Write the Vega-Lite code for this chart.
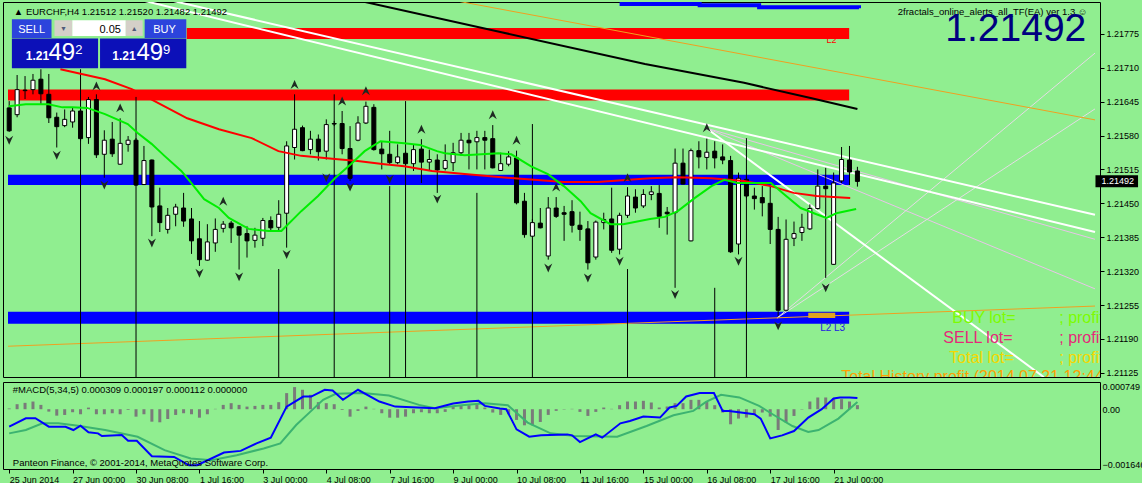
{
  "$schema": "https://vega.github.io/schema/vega-lite/v6.json",
  "background": "#90EE90",
  "padding": {"left": 2, "top": 1, "right": 0, "bottom": 0},
  "spacing": 2,
  "config": {
    "font": "Liberation Sans",
    "view": {"stroke": "#000000", "strokeWidth": 1},
    "axis": {"domainColor": "#000000", "tickColor": "#000000", "labelColor": "#000000", "labelFont": "Liberation Sans", "labelFontSize": 9, "grid": false}
  },
  "datasets": {
    "candles": [
      {"i":0,"o":1.21633,"h":1.21646,"l":1.21587,"c":1.21589},
      {"i":1,"o":1.2162,"h":1.21696,"l":1.21615,"c":1.21668},
      {"i":2,"o":1.21667,"h":1.21694,"l":1.2165,"c":1.21666},
      {"i":3,"o":1.21668,"h":1.21698,"l":1.21659,"c":1.21686},
      {"i":4,"o":1.21688,"h":1.21707,"l":1.2164,"c":1.2166},
      {"i":5,"o":1.21659,"h":1.21698,"l":1.21604,"c":1.21614},
      {"i":6,"o":1.21615,"h":1.21624,"l":1.21557,"c":1.21597},
      {"i":7,"o":1.21599,"h":1.2163,"l":1.21596,"c":1.21611},
      {"i":8,"o":1.21606,"h":1.21633,"l":1.21595,"c":1.21627},
      {"i":9,"o":1.21627,"h":1.21636,"l":1.21569,"c":1.21574},
      {"i":10,"o":1.21576,"h":1.21654,"l":1.21564,"c":1.21649},
      {"i":11,"o":1.21649,"h":1.21659,"l":1.21537,"c":1.21543},
      {"i":12,"o":1.21544,"h":1.2159,"l":1.21499,"c":1.21571},
      {"i":13,"o":1.21573,"h":1.21606,"l":1.21539,"c":1.21545},
      {"i":14,"o":1.21525,"h":1.21613,"l":1.21524,"c":1.21565},
      {"i":15,"o":1.21563,"h":1.21579,"l":1.21549,"c":1.21571},
      {"i":16,"o":1.21571,"h":1.21575,"l":1.21484,"c":1.21485},
      {"i":17,"o":1.21486,"h":1.2156,"l":1.21485,"c":1.21532},
      {"i":18,"o":1.21533,"h":1.21534,"l":1.21387,"c":1.21443},
      {"i":19,"o":1.21445,"h":1.2148,"l":1.21395,"c":1.21413},
      {"i":20,"o":1.214,"h":1.21441,"l":1.21392,"c":1.21427},
      {"i":21,"o":1.21429,"h":1.21449,"l":1.21406,"c":1.21443},
      {"i":22,"o":1.21441,"h":1.2147,"l":1.21405,"c":1.21416},
      {"i":23,"o":1.2142,"h":1.21441,"l":1.21353,"c":1.21378},
      {"i":24,"o":1.21382,"h":1.21416,"l":1.2133,"c":1.21342},
      {"i":25,"o":1.21341,"h":1.2141,"l":1.2134,"c":1.21376},
      {"i":26,"o":1.21374,"h":1.21421,"l":1.21357,"c":1.214},
      {"i":27,"o":1.21402,"h":1.21416,"l":1.21394,"c":1.2141},
      {"i":28,"o":1.21412,"h":1.21416,"l":1.21374,"c":1.21403},
      {"i":29,"o":1.21405,"h":1.21406,"l":1.21323,"c":1.21389},
      {"i":30,"o":1.21392,"h":1.21406,"l":1.21346,"c":1.21378},
      {"i":31,"o":1.21379,"h":1.21403,"l":1.21365,"c":1.21389},
      {"i":32,"o":1.21383,"h":1.21422,"l":1.21368,"c":1.21417},
      {"i":33,"o":1.21417,"h":1.21425,"l":1.21397,"c":1.21403},
      {"i":34,"o":1.21404,"h":1.21456,"l":1.21397,"c":1.21429},
      {"i":35,"o":1.21431,"h":1.21569,"l":1.21365,"c":1.2156},
      {"i":36,"o":1.21557,"h":1.21659,"l":1.21534,"c":1.21592},
      {"i":37,"o":1.21595,"h":1.21599,"l":1.2155,"c":1.21551},
      {"i":38,"o":1.21553,"h":1.21589,"l":1.21544,"c":1.21573},
      {"i":39,"o":1.21573,"h":1.21582,"l":1.21532,"c":1.21549},
      {"i":40,"o":1.2155,"h":1.21611,"l":1.21534,"c":1.21601},
      {"i":41,"o":1.21603,"h":1.21608,"l":1.21598,"c":1.21602},
      {"i":42,"o":1.21603,"h":1.21627,"l":1.21544,"c":1.21555},
      {"i":43,"o":1.21555,"h":1.21598,"l":1.21493,"c":1.21498},
      {"i":44,"o":1.21571,"h":1.21617,"l":1.21569,"c":1.21604},
      {"i":45,"o":1.21604,"h":1.21645,"l":1.21602,"c":1.21636},
      {"i":46,"o":1.21634,"h":1.2164,"l":1.21551,"c":1.21553},
      {"i":47,"o":1.21554,"h":1.21569,"l":1.21515,"c":1.21545},
      {"i":48,"o":1.21544,"h":1.21589,"l":1.21525,"c":1.21528},
      {"i":49,"o":1.21528,"h":1.21563,"l":1.21525,"c":1.21539},
      {"i":50,"o":1.21546,"h":1.2155,"l":1.21521,"c":1.21526},
      {"i":51,"o":1.21526,"h":1.21563,"l":1.21512,"c":1.21553},
      {"i":52,"o":1.21554,"h":1.21573,"l":1.21489,"c":1.21529},
      {"i":53,"o":1.21529,"h":1.21553,"l":1.21512,"c":1.21534},
      {"i":54,"o":1.21533,"h":1.21544,"l":1.2147,"c":1.21514},
      {"i":55,"o":1.21517,"h":1.21563,"l":1.21513,"c":1.21532},
      {"i":56,"o":1.21528,"h":1.21566,"l":1.21512,"c":1.21547},
      {"i":57,"o":1.21547,"h":1.21585,"l":1.21541,"c":1.21571},
      {"i":58,"o":1.21571,"h":1.21585,"l":1.21515,"c":1.21566},
      {"i":59,"o":1.21568,"h":1.21589,"l":1.21515,"c":1.21576},
      {"i":60,"o":1.21576,"h":1.21589,"l":1.21515,"c":1.21571},
      {"i":61,"o":1.21574,"h":1.216,"l":1.21517,"c":1.21518},
      {"i":62,"o":1.21513,"h":1.21547,"l":1.21512,"c":1.21526},
      {"i":63,"o":1.21525,"h":1.2155,"l":1.21521,"c":1.21539},
      {"i":64,"o":1.21537,"h":1.21551,"l":1.21448,"c":1.21451},
      {"i":65,"o":1.21454,"h":1.2147,"l":1.21384,"c":1.2139},
      {"i":66,"o":1.21387,"h":1.2142,"l":1.21386,"c":1.21413},
      {"i":67,"o":1.21412,"h":1.21441,"l":1.21402,"c":1.21403},
      {"i":68,"o":1.21349,"h":1.21462,"l":1.21342,"c":1.21441},
      {"i":69,"o":1.21441,"h":1.21462,"l":1.21422,"c":1.21425},
      {"i":70,"o":1.21432,"h":1.21445,"l":1.21378,"c":1.21429},
      {"i":71,"o":1.21434,"h":1.21456,"l":1.21394,"c":1.21408},
      {"i":72,"o":1.21408,"h":1.21434,"l":1.21378,"c":1.214},
      {"i":73,"o":1.21401,"h":1.21416,"l":1.21323,"c":1.21336},
      {"i":74,"o":1.21347,"h":1.21417,"l":1.21342,"c":1.21414},
      {"i":75,"o":1.21413,"h":1.21432,"l":1.214,"c":1.21419},
      {"i":76,"o":1.2142,"h":1.2148,"l":1.21355,"c":1.2136},
      {"i":77,"o":1.21362,"h":1.21432,"l":1.21352,"c":1.21427},
      {"i":78,"o":1.21427,"h":1.21481,"l":1.21422,"c":1.21464},
      {"i":79,"o":1.21462,"h":1.21477,"l":1.21432,"c":1.21441},
      {"i":80,"o":1.21445,"h":1.21477,"l":1.21441,"c":1.21467},
      {"i":81,"o":1.21467,"h":1.21483,"l":1.21456,"c":1.21472},
      {"i":82,"o":1.21469,"h":1.21485,"l":1.21403,"c":1.21425},
      {"i":83,"o":1.21433,"h":1.21443,"l":1.2139,"c":1.2143},
      {"i":84,"o":1.21432,"h":1.21555,"l":1.21288,"c":1.21527},
      {"i":85,"o":1.21527,"h":1.21555,"l":1.21486,"c":1.21487},
      {"i":86,"o":1.21378,"h":1.21555,"l":1.21377,"c":1.21551},
      {"i":87,"o":1.21551,"h":1.21569,"l":1.21517,"c":1.21539},
      {"i":88,"o":1.21538,"h":1.21574,"l":1.21515,"c":1.21548},
      {"i":89,"o":1.2155,"h":1.21569,"l":1.21517,"c":1.21537},
      {"i":90,"o":1.21539,"h":1.21563,"l":1.21525,"c":1.21533},
      {"i":91,"o":1.21532,"h":1.21541,"l":1.21355,"c":1.21357},
      {"i":92,"o":1.21372,"h":1.21509,"l":1.21352,"c":1.21498},
      {"i":93,"o":1.21496,"h":1.21502,"l":1.2146,"c":1.21464},
      {"i":94,"o":1.21464,"h":1.2148,"l":1.21438,"c":1.21459},
      {"i":95,"o":1.21461,"h":1.21483,"l":1.21425,"c":1.21451},
      {"i":96,"o":1.2145,"h":1.21483,"l":1.21372,"c":1.214},
      {"i":97,"o":1.214,"h":1.21424,"l":1.21234,"c":1.21245},
      {"i":98,"o":1.21245,"h":1.21419,"l":1.21243,"c":1.21381},
      {"i":99,"o":1.21383,"h":1.21415,"l":1.21368,"c":1.21392},
      {"i":100,"o":1.21394,"h":1.2143,"l":1.21378,"c":1.21404},
      {"i":101,"o":1.21401,"h":1.21448,"l":1.21399,"c":1.2144},
      {"i":102,"o":1.2144,"h":1.21515,"l":1.21438,"c":1.21483},
      {"i":103,"o":1.21483,"h":1.21518,"l":1.21307,"c":1.21478},
      {"i":104,"o":1.21333,"h":1.21509,"l":1.21332,"c":1.21489},
      {"i":105,"o":1.21493,"h":1.21558,"l":1.21489,"c":1.21534},
      {"i":106,"o":1.21533,"h":1.2156,"l":1.21485,"c":1.2151},
      {"i":107,"o":1.21512,"h":1.2152,"l":1.21482,"c":1.21492}
    ],
    "ma": [
      {"s":"red","i":6.46,"p":1.21707},{"s":"red","i":12.09,"p":1.21688},{"s":"red","i":15.46,"p":1.21669},
      {"s":"red","i":18.34,"p":1.21646},{"s":"red","i":22.46,"p":1.21613},{"s":"red","i":26.46,"p":1.21592},
      {"s":"red","i":30.59,"p":1.21575},{"s":"red","i":33.96,"p":1.2155},{"s":"red","i":36.84,"p":1.21541},
      {"s":"red","i":41.09,"p":1.21535},{"s":"red","i":43.96,"p":1.21531},{"s":"red","i":47.34,"p":1.21525},
      {"s":"red","i":49.84,"p":1.21521},{"s":"red","i":53.34,"p":1.21512},{"s":"red","i":57.46,"p":1.21506},
      {"s":"red","i":63.71,"p":1.21498},{"s":"red","i":69.96,"p":1.21491},{"s":"red","i":74.21,"p":1.21491},
      {"s":"red","i":80.84,"p":1.21498},{"s":"red","i":84.34,"p":1.215},{"s":"red","i":88.59,"p":1.21498},
      {"s":"red","i":92.71,"p":1.21493},{"s":"red","i":96.09,"p":1.21483},{"s":"red","i":98.96,"p":1.2147},
      {"s":"red","i":101.84,"p":1.21464},{"s":"red","i":106.09,"p":1.2146},
      {"s":"green","i":-0.04,"p":1.21636},{"s":"green","i":2.09,"p":1.2164},{"s":"green","i":4.96,"p":1.2164},
      {"s":"green","i":6.71,"p":1.21634},{"s":"green","i":7.96,"p":1.21634},{"s":"green","i":9.84,"p":1.21633},
      {"s":"green","i":12.09,"p":1.21621},{"s":"green","i":14.96,"p":1.21602},{"s":"green","i":16.21,"p":1.21585},
      {"s":"green","i":17.96,"p":1.21564},{"s":"green","i":19.59,"p":1.21541},{"s":"green","i":21.71,"p":1.21512},
      {"s":"green","i":22.96,"p":1.21489},{"s":"green","i":24.59,"p":1.21458},{"s":"green","i":26.46,"p":1.21441},
      {"s":"green","i":27.71,"p":1.21422},{"s":"green","i":30.21,"p":1.21401},{"s":"green","i":32.71,"p":1.21397},
      {"s":"green","i":34.34,"p":1.21397},{"s":"green","i":36.84,"p":1.21435},{"s":"green","i":38.96,"p":1.21464},
      {"s":"green","i":41.09,"p":1.21498},{"s":"green","i":43.09,"p":1.21525},{"s":"green","i":44.84,"p":1.2155},
      {"s":"green","i":46.84,"p":1.21569},{"s":"green","i":49.84,"p":1.21565},{"s":"green","i":51.84,"p":1.21562},
      {"s":"green","i":53.96,"p":1.2155},{"s":"green","i":54.96,"p":1.21546},{"s":"green","i":57.46,"p":1.21542},
      {"s":"green","i":61.71,"p":1.21546},{"s":"green","i":63.34,"p":1.21544},{"s":"green","i":65.84,"p":1.21521},
      {"s":"green","i":67.96,"p":1.21506},{"s":"green","i":69.96,"p":1.21483},{"s":"green","i":72.09,"p":1.21454},
      {"s":"green","i":73.34,"p":1.21431},{"s":"green","i":75.84,"p":1.2141},{"s":"green","i":77.46,"p":1.2141},
      {"s":"green","i":80.84,"p":1.2142},{"s":"green","i":82.71,"p":1.21424},{"s":"green","i":84.34,"p":1.21435},
      {"s":"green","i":86.46,"p":1.2146},{"s":"green","i":88.59,"p":1.21483},{"s":"green","i":90.21,"p":1.21495},
      {"s":"green","i":91.84,"p":1.21489},{"s":"green","i":96.09,"p":1.21489},{"s":"green","i":97.71,"p":1.21468},
      {"s":"green","i":99.84,"p":1.21441},{"s":"green","i":101.84,"p":1.21429},{"s":"green","i":103.09,"p":1.21422},
      {"s":"green","i":104.34,"p":1.21431},{"s":"green","i":106.84,"p":1.21439}
    ],
    "tl": [
      {"s":"wA","i":20.7,"p":1.21838},{"s":"wA","i":136.97,"p":1.21428},
      {"s":"wB","i":17.1,"p":1.21838},{"s":"wB","i":136.97,"p":1.21395},
      {"s":"wC","i":87.96,"p":1.21594},{"s":"wC","i":130.5,"p":1.21117},
      {"s":"k1","i":87.96,"p":1.21594},{"s":"k1","i":136.97,"p":1.21286},
      {"s":"k2","i":87.96,"p":1.21594},{"s":"k2","i":136.97,"p":1.21381},
      {"s":"r1","i":96.85,"p":1.2123},{"s":"r1","i":136.97,"p":1.21738},
      {"s":"r2","i":96.85,"p":1.2123},{"s":"r2","i":136.97,"p":1.21631},
      {"s":"o1","i":-0.15,"p":1.21176},{"s":"o1","i":136.97,"p":1.21253},
      {"s":"o2","i":56.46,"p":1.21838},{"s":"o2","i":136.97,"p":1.2161},
      {"s":"bk","i":44.3,"p":1.21838},{"s":"bk","i":62.1,"p":1.21778},{"s":"bk","i":80.2,"p":1.21717},
      {"s":"bk","i":92.7,"p":1.21681},{"s":"bk","i":101.1,"p":1.21652},{"s":"bk","i":107,"p":1.21631},
      {"s":"bt","i":77,"p":1.21832},{"s":"bt","i":87.1,"p":1.2183},{"s":"bt","i":94.6,"p":1.21826},{"s":"bt","i":107.2,"p":1.21824}
    ],
    "fr": [
      {"i":11,"p":1.21675,"d":"up"},{"i":14,"p":1.21633,"d":"up"},{"i":27,"p":1.21454,"d":"up"},
      {"i":36,"p":1.21678,"d":"up"},{"i":42,"p":1.21646,"d":"up"},{"i":45,"p":1.21666,"d":"up"},
      {"i":52,"p":1.21592,"d":"up"},{"i":61,"p":1.2162,"d":"up"},{"i":64,"p":1.21571,"d":"up"},
      {"i":69,"p":1.21481,"d":"up"},{"i":78,"p":1.21499,"d":"up"},{"i":88,"p":1.21595,"d":"up"},
      {"i":0,"p":1.21571,"d":"dn"},{"i":6,"p":1.21542,"d":"dn"},{"i":12,"p":1.21485,"d":"dn"},
      {"i":18,"p":1.21374,"d":"dn"},{"i":24,"p":1.21316,"d":"dn"},{"i":29,"p":1.21309,"d":"dn"},
      {"i":35,"p":1.21352,"d":"dn"},{"i":40,"p":1.21499,"d":"dn"},{"i":43,"p":1.21481,"d":"dn"},
      {"i":48,"p":1.21496,"d":"dn"},{"i":54,"p":1.21458,"d":"dn"},{"i":68,"p":1.21326,"d":"dn"},
      {"i":73,"p":1.21307,"d":"dn"},{"i":77,"p":1.21339,"d":"dn"},{"i":84,"p":1.21275,"d":"dn"},
      {"i":92,"p":1.21339,"d":"dn"},{"i":97,"p":1.21215,"d":"dn"},{"i":103,"p":1.21288,"d":"dn"}
    ],
    "vl": [
      {"i":9,"p":1.21707},{"i":16,"p":1.21654},{"i":34,"p":1.21324},{"i":41,"p":1.21659},
      {"i":48,"p":1.21483},{"i":50,"p":1.21646},{"i":59,"p":1.2147},{"i":66,"p":1.21602},
      {"i":78,"p":1.21324},{"i":89,"p":1.21288},{"i":93,"p":1.21575}
    ],
    "bx": [
      {"g":"band","n":"redtop","i":22.4,"i2":105.96,"p":1.21786,"p2":1.21765},
      {"g":"band","n":"red","i":-0.15,"i2":105.96,"p":1.21668,"p2":1.21647},
      {"g":"band","n":"blue","i":-0.15,"i2":105.96,"p":1.21505,"p2":1.21485},
      {"g":"band","n":"bluelow","i":-0.15,"i2":105.96,"p":1.21242,"p2":1.21219},
      {"g":"band","n":"gold","i":100.8,"i2":104.2,"p":1.2124,"p2":1.2123},
      {"g":"panel","n":"sell","i":0.34,"i2":5.34,"p":1.21803,"p2":1.21767},
      {"g":"panel","n":"spinl","i":5.71,"i2":7.96,"p":1.21801,"p2":1.21771},
      {"g":"panel","n":"spint","i":7.96,"i2":14.71,"p":1.21801,"p2":1.21771},
      {"g":"panel","n":"spinr","i":14.71,"i2":16.84,"p":1.21801,"p2":1.21771},
      {"g":"panel","n":"buy","i":17.09,"i2":22.34,"p":1.21803,"p2":1.21767},
      {"g":"panel","n":"pricel","i":0.34,"i2":11.21,"p":1.21766,"p2":1.21709},
      {"g":"panel","n":"pricer","i":11.46,"i2":22.34,"p":1.21766,"p2":1.21709},
      {"g":"panel","n":"tag","i":137.03,"i2":142.4,"p":1.21504,"p2":1.21481}
    ],
    "tx": [
      {"g":"hdr","t":"▲ EURCHF,H4  1.21512 1.21520 1.21482 1.21492","i":0.59,"p":1.21811},
      {"g":"hdr","t":"2fractals_online_alerts_all_TF(EA) ver 1.3 ☺","i":112.09,"p":1.21811},
      {"g":"big","t":"1.21492","i":118.09,"p":1.21762},
      {"g":"btn","t":"SELL","i":2.84,"p":1.21777},
      {"g":"btn","t":"BUY","i":19.6,"p":1.21777},
      {"g":"arr","t":"▼","i":6.84,"p":1.2178},
      {"g":"arr","t":"▲","i":15.77,"p":1.2178},
      {"g":"spin","t":"0.05","i":14.09,"p":1.21777},
      {"g":"s12","t":"1.21","i":2.09,"p":1.21724},
      {"g":"s12","t":"1.21","i":13.0,"p":1.21724},
      {"g":"m24","t":"49","i":4.96,"p":1.21724},
      {"g":"m24","t":"49","i":16.05,"p":1.21724},
      {"g":"sup","t":"2","i":8.34,"p":1.21737},
      {"g":"sup","t":"9","i":19.4,"p":1.21737},
      {"g":"l2","t":"L2","i":103.1,"p":1.21757},
      {"g":"l23","t":"L2 L3","i":102.3,"p":1.21205},
      {"g":"buy","t":"BUY  lot=","i":118.96,"p":1.21221},
      {"g":"buy","t":"; profit=","i":132.46,"p":1.21221},
      {"g":"sell","t":"SELL  lot=","i":117.84,"p":1.21183},
      {"g":"sell","t":"; profit=","i":132.46,"p":1.21183},
      {"g":"tot","t":"Total  lot=","i":118.6,"p":1.21144},
      {"g":"tot","t":"; profit=","i":132.46,"p":1.21144},
      {"g":"his","t":"Total History profit (2014.07.21 12:44:11)","i":104.96,"p":1.21107},
      {"g":"tag","t":"1.21492","i":137.8,"p":1.21492}
    ],
    "hist": [
      {"i":0,"v":0.00002},{"i":1,"v":0.000138},{"i":2,"v":0.000175},{"i":3,"v":0.000211},{"i":4,"v":0.000119},
      {"i":5,"v":-0.000066},{"i":6,"v":-0.000177},{"i":7,"v":-0.000158},{"i":8,"v":-0.000083},{"i":9,"v":-0.000139},
      {"i":10,"v":0.000044},{"i":11,"v":-0.000139},{"i":12,"v":-0.000139},{"i":13,"v":-0.000111},{"i":14,"v":-0.000139},
      {"i":15,"v":-0.00002},{"i":16,"v":-0.000205},{"i":17,"v":-0.000139},{"i":18,"v":-0.000343},{"i":19,"v":-0.00036},
      {"i":20,"v":-0.000269},{"i":21,"v":-0.000158},{"i":22,"v":-0.000111},{"i":23,"v":-0.000139},{"i":24,"v":-0.000233},
      {"i":25,"v":-0.000139},{"i":26,"v":0.00001},{"i":27,"v":0.000119},{"i":28,"v":0.000166},{"i":29,"v":0.000119},
      {"i":30,"v":0.000072},{"i":31,"v":0.000091},{"i":32,"v":0.000119},{"i":33,"v":0.000119},{"i":34,"v":0.000194},
      {"i":35,"v":0.000443},{"i":36,"v":0.000609},{"i":37,"v":0.000535},{"i":38,"v":0.000396},{"i":39,"v":0.000194},
      {"i":40,"v":0.000166},{"i":41,"v":0.000138},{"i":42,"v":-0.00002},{"i":43,"v":-0.000205},{"i":44,"v":-0.000047},
      {"i":45,"v":0.000072},{"i":46,"v":0.00001},{"i":47,"v":-0.000111},{"i":48,"v":-0.000233},{"i":49,"v":-0.000233},
      {"i":50,"v":-0.000205},{"i":51,"v":-0.000111},{"i":52,"v":-0.000083},{"i":53,"v":-0.000111},{"i":54,"v":-0.000111},
      {"i":55,"v":-0.000074},{"i":56,"v":0.000074},{"i":57,"v":0.000092},{"i":58,"v":0.000111},{"i":59,"v":0.000138},
      {"i":60,"v":0.000046},{"i":61,"v":-0.000092},{"i":62,"v":-0.000157},{"i":63,"v":-0.000138},{"i":64,"v":-0.000295},
      {"i":65,"v":-0.000443},{"i":66,"v":-0.000443},{"i":67,"v":-0.000351},{"i":68,"v":-0.000157},{"i":69,"v":-0.000046},
      {"i":70,"v":-0.00001},{"i":71,"v":0.00001},{"i":72,"v":-0.000074},{"i":73,"v":-0.000185},{"i":74,"v":-0.000074},
      {"i":75,"v":0.000046},{"i":76,"v":0.00001},{"i":77,"v":0.000111},{"i":78,"v":0.000212},{"i":79,"v":0.000212},
      {"i":80,"v":0.000231},{"i":81,"v":0.000185},{"i":82,"v":0.000046},{"i":83,"v":0.000074},{"i":84,"v":0.000166},
      {"i":85,"v":0.000166},{"i":86,"v":0.000258},{"i":87,"v":0.000258},{"i":88,"v":0.000203},{"i":89,"v":0.000111},
      {"i":90,"v":-0.000092},{"i":91,"v":-0.000415},{"i":92,"v":-0.000258},{"i":93,"v":-0.000231},{"i":94,"v":-0.000138},
      {"i":95,"v":-0.000092},{"i":96,"v":-0.000203},{"i":97,"v":-0.000572},{"i":98,"v":-0.000369},{"i":99,"v":-0.000185},
      {"i":100,"v":-0.00001},{"i":101,"v":0.000212},{"i":102,"v":0.000323},{"i":103,"v":0.000323},{"i":104,"v":0.000305},
      {"i":105,"v":0.000277},{"i":106,"v":0.000212},{"i":107,"v":0.000112}
    ],
    "ml": [
      {"s":"macd","i":0,"v":-0.000482},{"s":"macd","i":2.1,"v":-0.000249},{"s":"macd","i":3.3,"v":-0.000249},
      {"s":"macd","i":5,"v":-0.000482},{"s":"macd","i":7.1,"v":-0.000482},{"s":"macd","i":8.1,"v":-0.000573},
      {"s":"macd","i":9,"v":-0.000454},{"s":"macd","i":10,"v":-0.000637},{"s":"macd","i":11.2,"v":-0.000665},
      {"s":"macd","i":11.7,"v":-0.00074},{"s":"macd","i":14.2,"v":-0.000712},{"s":"macd","i":15,"v":-0.00087},
      {"s":"macd","i":16.1,"v":-0.00087},{"s":"macd","i":18,"v":-0.001294},{"s":"macd","i":20.8,"v":-0.001313},
      {"s":"macd","i":22.7,"v":-0.001543},{"s":"macd","i":23.7,"v":-0.001543},{"s":"macd","i":27.1,"v":-0.001191},
      {"s":"macd","i":29.2,"v":-0.001147},{"s":"macd","i":31.2,"v":-0.000942},{"s":"macd","i":33,"v":-0.000787},
      {"s":"macd","i":35,"v":0.000072},{"s":"macd","i":37.1,"v":0.000349},{"s":"macd","i":38.1,"v":0.000349},
      {"s":"macd","i":39.8,"v":0.000535},{"s":"macd","i":40.8,"v":0.000515},{"s":"macd","i":42.1,"v":0.000258},
      {"s":"macd","i":44,"v":0.000535},{"s":"macd","i":46.7,"v":0.000211},{"s":"macd","i":48.7,"v":0.000072},
      {"s":"macd","i":50.8,"v":0.000055},{"s":"macd","i":53.7,"v":0.000028},{"s":"macd","i":56,"v":0.000158},
      {"s":"macd","i":57.9,"v":0.000213},{"s":"macd","i":59.2,"v":0.00023},{"s":"macd","i":60,"v":0.000091},
      {"s":"macd","i":61.9,"v":0.000019},{"s":"macd","i":62.7,"v":0},{"s":"macd","i":64,"v":-0.000554},
      {"s":"macd","i":65.6,"v":-0.000756},{"s":"macd","i":67.1,"v":-0.00072},{"s":"macd","i":70.4,"v":-0.000693},
      {"s":"macd","i":71,"v":-0.00072},{"s":"macd","i":72,"v":-0.000906},{"s":"macd","i":74,"v":-0.000693},
      {"s":"macd","i":74.8,"v":-0.000784},{"s":"macd","i":77.1,"v":-0.000388},{"s":"macd","i":78.3,"v":-0.000324},
      {"s":"macd","i":80,"v":-0.000202},{"s":"macd","i":82.1,"v":-0.00023},{"s":"macd","i":83.3,"v":0.000047},
      {"s":"macd","i":84.2,"v":0.000091},{"s":"macd","i":85.4,"v":0.000352},{"s":"macd","i":87.1,"v":0.000443},
      {"s":"macd","i":88.9,"v":0.000443},{"s":"macd","i":90,"v":-0.000047},{"s":"macd","i":90.8,"v":-0.000047},
      {"s":"macd","i":92.3,"v":-0.000091},{"s":"macd","i":94,"v":-0.000139},{"s":"macd","i":94.8,"v":-0.000258},
      {"s":"macd","i":96,"v":-0.000803},{"s":"macd","i":97.5,"v":-0.00072},{"s":"macd","i":99,"v":-0.000601},
      {"s":"macd","i":100.8,"v":-0.00023},{"s":"macd","i":102.5,"v":0},{"s":"macd","i":104,"v":0.000296},
      {"s":"macd","i":104.8,"v":0.000324},{"s":"macd","i":106,"v":0.000324},{"s":"macd","i":107,"v":0.000309},
      {"s":"sig","i":0,"v":-0.000665},{"s":"sig","i":2.1,"v":-0.000573},{"s":"sig","i":4.2,"v":-0.000388},
      {"s":"sig","i":6.2,"v":-0.000388},{"s":"sig","i":8.7,"v":-0.000454},{"s":"sig","i":12.1,"v":-0.000573},
      {"s":"sig","i":16.2,"v":-0.000759},{"s":"sig","i":19.6,"v":-0.001127},{"s":"sig","i":22.9,"v":-0.001357},
      {"s":"sig","i":25.5,"v":-0.001404},{"s":"sig","i":28.7,"v":-0.001266},{"s":"sig","i":32.1,"v":-0.00108},
      {"s":"sig","i":34.2,"v":-0.000942},{"s":"sig","i":36.2,"v":-0.000435},{"s":"sig","i":38,"v":-0.000066},
      {"s":"sig","i":39.6,"v":0.000258},{"s":"sig","i":41.2,"v":0.000424},{"s":"sig","i":44.6,"v":0.000443},
      {"s":"sig","i":47.9,"v":0.000377},{"s":"sig","i":51.7,"v":0.000119},{"s":"sig","i":53.7,"v":0.000028},
      {"s":"sig","i":57.1,"v":0.000111},{"s":"sig","i":60,"v":0.000166},{"s":"sig","i":62.9,"v":0.000111},
      {"s":"sig","i":65.4,"v":-0.000368},{"s":"sig","i":68.3,"v":-0.000665},{"s":"sig","i":71.3,"v":-0.00074},
      {"s":"sig","i":76.7,"v":-0.000756},{"s":"sig","i":80.4,"v":-0.000463},{"s":"sig","i":83.8,"v":-0.000166},
      {"s":"sig","i":86.3,"v":-0.000047},{"s":"sig","i":87.9,"v":0.000202},{"s":"sig","i":89.8,"v":0.000396},
      {"s":"sig","i":92.1,"v":0.000324},{"s":"sig","i":94.6,"v":0.000091},{"s":"sig","i":96.3,"v":-0.000139},
      {"s":"sig","i":98.8,"v":-0.000463},{"s":"sig","i":100.8,"v":-0.000629},{"s":"sig","i":102.1,"v":-0.000573},
      {"s":"sig","i":104.6,"v":-0.000258},{"s":"sig","i":107,"v":0.000197}
    ],
    "mtx": [
      {"t":"#MACD(5,34,5) 0.000309 0.000197 0.000112 0.000000","i":0.46,"v":0.000438},
      {"t":"Panteon Finance, © 2001-2014, MetaQuotes Software Corp.","i":0.46,"v":-0.001555}
    ]
  },
  "vconcat": [
    {
      "width": 1097,
      "height": 375,
      "resolve": {"scale": {"color": "independent", "shape": "independent"}},
      "layer": [
        {
          "data": {"name": "bx"},
          "transform": [{"filter": "datum.g == 'band'"}],
          "mark": {"type": "rect", "clip": true},
          "encoding": {
            "x": {"field": "i", "type": "quantitative", "scale": {"domain": [-0.15, 136.97], "nice": false, "zero": false}, "axis": null},
            "x2": {"field": "i2"},
            "y": {"field": "p", "type": "quantitative", "scale": {"domain": [1.21117, 1.21836], "nice": false, "zero": false},
              "axis": {"orient": "right", "title": null, "domain": false, "tickSize": 4, "labelPadding": 2, "format": ".5f",
                "labelOverlap": false, "labelBound": false, "tickCount": 30,
                "values": [1.21125, 1.2119, 1.21255, 1.2132, 1.21385, 1.2145, 1.21515, 1.2158, 1.21645, 1.2171, 1.21775]}},
            "y2": {"field": "p2"},
            "color": {"field": "n", "type": "nominal", "legend": null,
              "scale": {"domain": ["redtop", "red", "blue", "bluelow", "gold"], "range": ["#FF0000", "#FF0000", "#0000FF", "#0000FF", "#DAA520"]}}
          }
        },
        {
          "mark": {"type": "rule", "color": "#C8C8C8", "strokeWidth": 1},
          "encoding": {"y": {"datum": 1.21492, "type": "quantitative", "title": null}}
        },
        {
          "data": {"name": "tl"},
          "transform": [{"filter": {"field": "s", "oneOf": ["k1", "k2", "r1", "r2", "o1", "o2"]}}],
          "mark": {"type": "line", "clip": true, "strokeWidth": 1},
          "encoding": {
            "x": {"field": "i", "type": "quantitative", "axis": null},
            "y": {"field": "p", "type": "quantitative", "title": null},
            "detail": {"field": "s"},
            "color": {"field": "s", "type": "nominal", "legend": null,
              "scale": {"domain": ["k1", "k2", "r1", "r2", "o1", "o2"], "range": ["#E8C4E8", "#E8C4E8", "#E4DCE4", "#E4DCE4", "#F0A020", "#F0A020"]}}
          }
        },
        {
          "data": {"name": "tl"},
          "transform": [{"filter": "datum.s == 'bk'"}],
          "mark": {"type": "line", "clip": true, "strokeWidth": 2, "color": "#000000"},
          "encoding": {
            "x": {"field": "i", "type": "quantitative", "axis": null},
            "y": {"field": "p", "type": "quantitative", "title": null}
          }
        },
        {
          "data": {"name": "tl"},
          "transform": [{"filter": "datum.s == 'bt'"}],
          "mark": {"type": "line", "clip": true, "strokeWidth": 4, "color": "#0000FF", "interpolate": "step-after"},
          "encoding": {
            "x": {"field": "i", "type": "quantitative", "axis": null},
            "y": {"field": "p", "type": "quantitative", "title": null}
          }
        },
        {
          "data": {"name": "tl"},
          "transform": [{"filter": {"field": "s", "oneOf": ["wA", "wB", "wC"]}}],
          "mark": {"type": "line", "clip": true, "strokeWidth": 2, "color": "#FFFFFF"},
          "encoding": {
            "x": {"field": "i", "type": "quantitative", "axis": null},
            "y": {"field": "p", "type": "quantitative", "title": null},
            "detail": {"field": "s"}
          }
        },
        {
          "data": {"name": "vl"},
          "mark": {"type": "rule", "clip": true, "color": "#000000", "strokeWidth": 1},
          "encoding": {
            "x": {"field": "i", "type": "quantitative", "axis": null},
            "y": {"field": "p", "type": "quantitative", "title": null},
            "y2": {"datum": 1.21117}
          }
        },
        {
          "data": {"name": "candles"},
          "mark": {"type": "rule", "clip": true, "color": "#000000", "strokeWidth": 1},
          "encoding": {
            "x": {"field": "i", "type": "quantitative", "axis": null},
            "y": {"field": "l", "type": "quantitative", "title": null},
            "y2": {"field": "h"}
          }
        },
        {
          "data": {"name": "candles"},
          "mark": {"type": "bar", "clip": true, "width": 4, "stroke": "#000000", "strokeWidth": 1},
          "encoding": {
            "x": {"field": "i", "type": "quantitative", "axis": null},
            "y": {"field": "o", "type": "quantitative", "title": null},
            "y2": {"field": "c"},
            "fill": {"condition": {"test": "datum.c > datum.o", "value": "#FFFFFF"}, "value": "#000000"}
          }
        },
        {
          "data": {"name": "ma"},
          "mark": {"type": "line", "clip": true, "strokeWidth": 2},
          "encoding": {
            "x": {"field": "i", "type": "quantitative", "axis": null},
            "y": {"field": "p", "type": "quantitative", "title": null},
            "color": {"field": "s", "type": "nominal", "legend": null,
              "scale": {"domain": ["red", "green"], "range": ["#FF0000", "#00EE00"]}}
          }
        },
        {
          "data": {"name": "fr"},
          "mark": {"type": "point", "clip": true, "filled": true, "size": 80, "color": "#1E2A22", "opacity": 1},
          "encoding": {
            "x": {"field": "i", "type": "quantitative", "axis": null},
            "y": {"field": "p", "type": "quantitative", "title": null},
            "shape": {"field": "d", "type": "nominal", "legend": null,
              "scale": {"domain": ["up", "dn"], "range": ["M0,-1L0.9,1L0,0.35L-0.9,1Z", "M0,1L0.9,-1L0,-0.35L-0.9,-1Z"]}}
          }
        },
        {
          "data": {"name": "bx"},
          "transform": [{"filter": "datum.g == 'panel'"}],
          "mark": {"type": "rect"},
          "encoding": {
            "x": {"field": "i", "type": "quantitative", "axis": null},
            "x2": {"field": "i2"},
            "y": {"field": "p", "type": "quantitative", "title": null},
            "y2": {"field": "p2"},
            "color": {"field": "n", "type": "nominal", "legend": null,
              "scale": {"domain": ["sell", "spinl", "spint", "spinr", "buy", "pricel", "pricer", "tag"],
                "range": ["#2C44DC", "#D4D0C8", "#FFFFFF", "#D4D0C8", "#2C44DC", "#0C10B8", "#0C10B8", "#000000"]}}
          }
        },
        {
          "data": {"name": "tx"},
          "transform": [{"filter": "datum.g == 'hdr'"}],
          "mark": {"type": "text", "align": "left", "baseline": "alphabetic", "fontSize": 9.5, "color": "#000000"},
          "encoding": {
            "x": {"field": "i", "type": "quantitative", "axis": null},
            "y": {"field": "p", "type": "quantitative", "title": null},
            "text": {"field": "t"}
          }
        },
        {
          "data": {"name": "tx"},
          "transform": [{"filter": "datum.g == 'big'"}],
          "mark": {"type": "text", "align": "left", "baseline": "alphabetic", "fontSize": 39, "color": "#000080"},
          "encoding": {
            "x": {"field": "i", "type": "quantitative", "axis": null},
            "y": {"field": "p", "type": "quantitative", "title": null},
            "text": {"field": "t"}
          }
        },
        {
          "data": {"name": "tx"},
          "transform": [{"filter": "datum.g == 'btn'"}],
          "mark": {"type": "text", "align": "center", "baseline": "alphabetic", "fontSize": 11, "color": "#FFFFFF"},
          "encoding": {
            "x": {"field": "i", "type": "quantitative", "axis": null},
            "y": {"field": "p", "type": "quantitative", "title": null},
            "text": {"field": "t"}
          }
        },
        {
          "data": {"name": "tx"},
          "transform": [{"filter": "datum.g == 'arr'"}],
          "mark": {"type": "text", "align": "center", "baseline": "alphabetic", "fontSize": 7, "color": "#505A78"},
          "encoding": {
            "x": {"field": "i", "type": "quantitative", "axis": null},
            "y": {"field": "p", "type": "quantitative", "title": null},
            "text": {"field": "t"}
          }
        },
        {
          "data": {"name": "tx"},
          "transform": [{"filter": "datum.g == 'spin'"}],
          "mark": {"type": "text", "align": "right", "baseline": "alphabetic", "fontSize": 11, "color": "#000000"},
          "encoding": {
            "x": {"field": "i", "type": "quantitative", "axis": null},
            "y": {"field": "p", "type": "quantitative", "title": null},
            "text": {"field": "t"}
          }
        },
        {
          "data": {"name": "tx"},
          "transform": [{"filter": "datum.g == 's12'"}],
          "mark": {"type": "text", "align": "left", "baseline": "alphabetic", "fontSize": 12, "fontWeight": "bold", "color": "#FFFFFF"},
          "encoding": {
            "x": {"field": "i", "type": "quantitative", "axis": null},
            "y": {"field": "p", "type": "quantitative", "title": null},
            "text": {"field": "t"}
          }
        },
        {
          "data": {"name": "tx"},
          "transform": [{"filter": "datum.g == 'm24'"}],
          "mark": {"type": "text", "align": "left", "baseline": "alphabetic", "fontSize": 24, "color": "#FFFFFF"},
          "encoding": {
            "x": {"field": "i", "type": "quantitative", "axis": null},
            "y": {"field": "p", "type": "quantitative", "title": null},
            "text": {"field": "t"}
          }
        },
        {
          "data": {"name": "tx"},
          "transform": [{"filter": "datum.g == 'sup'"}],
          "mark": {"type": "text", "align": "left", "baseline": "alphabetic", "fontSize": 13, "color": "#FFFFFF"},
          "encoding": {
            "x": {"field": "i", "type": "quantitative", "axis": null},
            "y": {"field": "p", "type": "quantitative", "title": null},
            "text": {"field": "t"}
          }
        },
        {
          "data": {"name": "tx"},
          "transform": [{"filter": "datum.g == 'l2'"}],
          "mark": {"type": "text", "align": "left", "baseline": "alphabetic", "fontSize": 9, "color": "#FF0000"},
          "encoding": {
            "x": {"field": "i", "type": "quantitative", "axis": null},
            "y": {"field": "p", "type": "quantitative", "title": null},
            "text": {"field": "t"}
          }
        },
        {
          "data": {"name": "tx"},
          "transform": [{"filter": "datum.g == 'l23'"}],
          "mark": {"type": "text", "align": "left", "baseline": "alphabetic", "fontSize": 10, "color": "#2020E0"},
          "encoding": {
            "x": {"field": "i", "type": "quantitative", "axis": null},
            "y": {"field": "p", "type": "quantitative", "title": null},
            "text": {"field": "t"}
          }
        },
        {
          "data": {"name": "tx"},
          "transform": [{"filter": {"field": "g", "oneOf": ["buy", "sell", "tot", "his"]}}],
          "mark": {"type": "text", "clip": true, "align": "left", "baseline": "alphabetic", "fontSize": 16},
          "encoding": {
            "x": {"field": "i", "type": "quantitative", "axis": null},
            "y": {"field": "p", "type": "quantitative", "title": null},
            "text": {"field": "t"},
            "color": {"field": "g", "type": "nominal", "legend": null,
              "scale": {"domain": ["buy", "sell", "tot", "his"], "range": ["#7CFC00", "#E6287A", "#F5D800", "#FFA000"]}}
          }
        },
        {
          "data": {"name": "tx"},
          "transform": [{"filter": "datum.g == 'tag'"}],
          "mark": {"type": "text", "align": "left", "baseline": "middle", "fontSize": 9, "color": "#FFFFFF"},
          "encoding": {
            "x": {"field": "i", "type": "quantitative", "axis": null},
            "y": {"field": "p", "type": "quantitative", "title": null},
            "text": {"field": "t"}
          }
        }
      ]
    },
    {
      "width": 1097,
      "height": 87,
      "layer": [
        {
          "data": {"name": "hist"},
          "mark": {"type": "bar", "width": 3, "color": "#7A7A7A"},
          "encoding": {
            "x": {"field": "i", "type": "quantitative", "scale": {"domain": [-0.15, 136.97], "nice": false, "zero": false},
              "axis": {"orient": "bottom", "title": null, "domain": false, "tickSize": 4, "labelPadding": 2, "labelAlign": "left",
                "labelFlush": false, "labelOverlap": false, "tickCount": 40,
                "values": [0, 8, 16, 24, 32, 40, 48, 56, 64, 72, 80, 88, 96, 104],
                "labelExpr": "['25 Jun 2014','27 Jun 00:00','30 Jun 08:00','1 Jul 16:00','3 Jul 00:00','4 Jul 08:00','7 Jul 16:00','9 Jul 00:00','10 Jul 08:00','11 Jul 16:00','15 Jul 00:00','16 Jul 08:00','17 Jul 16:00','21 Jul 00:00'][round(datum.value / 8)]"}},
            "y": {"field": "v", "type": "quantitative", "scale": {"domain": [-0.001646, 0.000749], "nice": false, "zero": false},
              "axis": {"orient": "right", "title": null, "domain": false, "tickSize": 0, "labelPadding": 2, "labelFlush": true,
                "labelOverlap": false,
                "values": [-0.001646, 0, 0.000749],
                "labelExpr": "datum.value == 0 ? '0.00' : format(datum.value, '.6f')"}},
            "y2": {"datum": 0}
          }
        },
        {
          "mark": {"type": "rule", "color": "#000000", "strokeWidth": 2},
          "encoding": {"y": {"datum": 0, "type": "quantitative", "title": null}}
        },
        {
          "data": {"name": "ml"},
          "transform": [{"filter": "datum.s == 'sig'"}],
          "mark": {"type": "line", "clip": true, "strokeWidth": 2, "color": "#3CB371"},
          "encoding": {
            "x": {"field": "i", "type": "quantitative", "title": null},
            "y": {"field": "v", "type": "quantitative", "title": null}
          }
        },
        {
          "data": {"name": "ml"},
          "transform": [{"filter": "datum.s == 'macd'"}],
          "mark": {"type": "line", "clip": true, "strokeWidth": 2, "color": "#0000FF"},
          "encoding": {
            "x": {"field": "i", "type": "quantitative", "title": null},
            "y": {"field": "v", "type": "quantitative", "title": null}
          }
        },
        {
          "data": {"name": "mtx"},
          "mark": {"type": "text", "align": "left", "baseline": "alphabetic", "fontSize": 9.5, "color": "#000000"},
          "encoding": {
            "x": {"field": "i", "type": "quantitative", "title": null},
            "y": {"field": "v", "type": "quantitative", "title": null},
            "text": {"field": "t"}
          }
        }
      ]
    }
  ]
}
